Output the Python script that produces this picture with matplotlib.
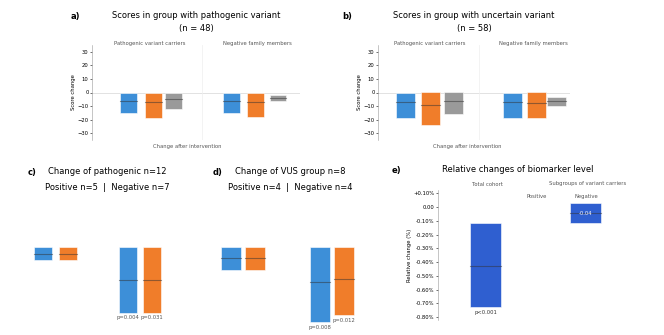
import matplotlib.pyplot as plt

W, H = 664, 335

# panels a/b: floating ranges (low, high) and medians per series
groups_ab = ["Pathogenic variant carriers", "Negative family members"]
a_low = [-15, -18.5, -12, -15, -18, -6]
a_high = [0, 0, -0.7, 0, 0, -2.2]
a_med = [-6, -7, -5, -6, -7, -4]
b_low = [-18.5, -24, -15.5, -18.5, -19, -10]
b_high = [0, 0, 0, 0, 0, -3]
b_med = [-7, -9, -6, -7, -8, -6]
ab_colors = ["#3d8fd8", "#f07d2a", "#9a9a9a"] * 2
ab_ticks = [30, 20, 10, 0, -10, -20, -30]

# panels c/d
c_low = [-1.5, -1.5, -7.6, -7.6]
c_med = [-0.8, -0.8, -3.8, -3.8]
c_p = ["", "", "p=0.004", "p=0.031"]
d_low = [-2.7, -2.7, -8.7, -7.9]
d_med = [-1.3, -1.3, -4.1, -3.7]
d_p = ["", "", "p=0.008", "p=0.012"]

# panel e
e_low = [-0.726, -0.118]
e_high = [-0.118, 0.03]
e_med = [-0.43, -0.044]
e_ticks = [0.1, 0.0, -0.1, -0.2, -0.3, -0.4, -0.5, -0.6, -0.7, -0.8]

fig = plt.figure(figsize=(W / 100, H / 100), dpi=100)


def axes_px(x0, y0, x1, y1):
    return fig.add_axes([x0 / W, 1 - y1 / H, (x1 - x0) / W, (y1 - y0) / H])


def txt(x, y, s, **kw):
    kw.setdefault("fontsize", 4.5)
    kw.setdefault("ha", "center")
    kw.setdefault("va", "center")
    fig.text(x / W, 1 - y / H, s, **kw)


def box_panel(ax, pos, low, high, med, colors, width):
    for x, lo, hi, m, c in zip(pos, low, high, med, colors):
        ax.bar(x, hi - lo, bottom=lo, width=width, color=c, edgecolor="white", lw=0.4)
        ax.plot([x - width / 2, x + width / 2], [m, m], color="#333333", lw=0.8, alpha=0.5)


def left_axis(ax, label):
    ax.tick_params(axis="y", labelsize=3.8, length=1.5, width=0.4, pad=1)
    ax.set_xticks([])
    for s in ["top", "right", "bottom"]:
        ax.spines[s].set_visible(False)
    ax.spines["left"].set_linewidth(0.4)
    ax.spines["left"].set_color("#999999")
    ax.set_ylabel(label, fontsize=3.8, labelpad=1)


def ab_panel(x0, x1, pos, width, low, high, med, letter, lx, title, n, gx):
    ax = axes_px(x0, 45, x1, 140)
    box_panel(ax, pos, low, high, med, ab_colors, width)
    ax.axhline(0, color="#dddddd", lw=0.6, zorder=0)
    ax.axvline(3.7, color="#eeeeee", lw=0.5, zorder=0)
    ax.set_xlim(0, 7)
    ax.set_ylim(-35, 35)
    ax.set_yticks(ab_ticks)
    left_axis(ax, "Score change")
    cx = (x0 + x1) / 2
    txt(lx, 16, letter + ")", fontsize=6, fontweight="bold")
    txt(cx, 16, title, fontsize=6)
    txt(cx, 29, n, fontsize=6)
    txt(gx[0], 43, groups_ab[0], fontsize=3.8, color="#555555")
    txt(gx[1], 43, groups_ab[1], fontsize=3.8, color="#555555")
    txt(gx[2], 146, "Change after intervention", fontsize=3.8, color="#555555")


ab_panel(92, 300, [1.23, 2.07, 2.74, 4.7, 5.5, 6.26], 0.57, a_low, a_high, a_med,
         "a", 75, "Scores in group with pathogenic variant", "(n = 48)", [150, 257, 187])
ab_panel(378, 570, [0.99, 1.9, 2.74, 4.9, 5.77, 6.5], 0.7, b_low, b_high, b_med,
         "b", 347, "Scores in group with uncertain variant", "(n = 58)", [430, 533, 467])


def cd_panel(x0, x1, pos, width, low, med, pvals, letter, title, sub):
    ax = axes_px(x0, 200, x1, 330)
    cols = ["#3d8fd8", "#f07d2a"] * 2
    box_panel(ax, pos, low, [0] * 4, med, cols, width)
    for x, lo, p in zip(pos, low, pvals):
        if p:
            ax.text(x, lo - 0.3, p, fontsize=3.8, ha="center", va="top", color="#555555")
    ax.set_xlim(0.3, 4.8)
    ax.set_ylim(-9.6, 5.4)
    ax.axis("off")
    txt(x0 + 8, 172, letter + ")", fontsize=6, fontweight="bold", ha="left")
    txt((x0 + x1) / 2, 172, title, fontsize=6)
    txt((x0 + x1) / 2, 188, sub, fontsize=6)


cd_panel(20, 195, [0.89, 1.53, 3.08, 3.69], 0.45, c_low, c_med, c_p, "c",
         "Change of pathogenic n=12", "Positive n=5  |  Negative n=7")
cd_panel(205, 375, [0.99, 1.62, 3.34, 3.98], 0.53, d_low, d_med, d_p, "d",
         "Change of VUS group n=8", "Positive n=4  |  Negative n=4")

# panel e
ax = axes_px(438, 190, 660, 320)
pos = [1.12, 4.48]
box_panel(ax, pos, e_low, e_high, e_med, ["#2f5fd0"] * 2, 1.05)
ax.text(pos[0], e_low[0] - 0.02, "p<0.001", fontsize=3.8, ha="center", va="top", color="#333333")
ax.text(pos[1], e_med[1], "-0.04", fontsize=3.8, ha="center", va="center", color="white")
ax.set_xlim(-0.5, 7)
ax.set_ylim(-0.82, 0.125)
ax.set_yticks(e_ticks)
ax.set_yticklabels([f"{t:+.2f}%" if t != 0 else "0.00" for t in e_ticks])
left_axis(ax, "Relative change (%)")
txt(392, 170, "e)", fontsize=6, fontweight="bold", ha="left")
txt(518, 170, "Relative changes of biomarker level", fontsize=6)
txt(487, 185, "Total cohort", fontsize=3.8, color="#555555")
txt(588, 183, "Subgroups of variant carriers", fontsize=3.8, color="#555555")
txt(537, 196, "Positive", fontsize=3.8, color="#555555")
txt(586, 196, "Negative", fontsize=3.8, color="#555555")

fig.savefig("out.png", dpi=100, facecolor="white")
